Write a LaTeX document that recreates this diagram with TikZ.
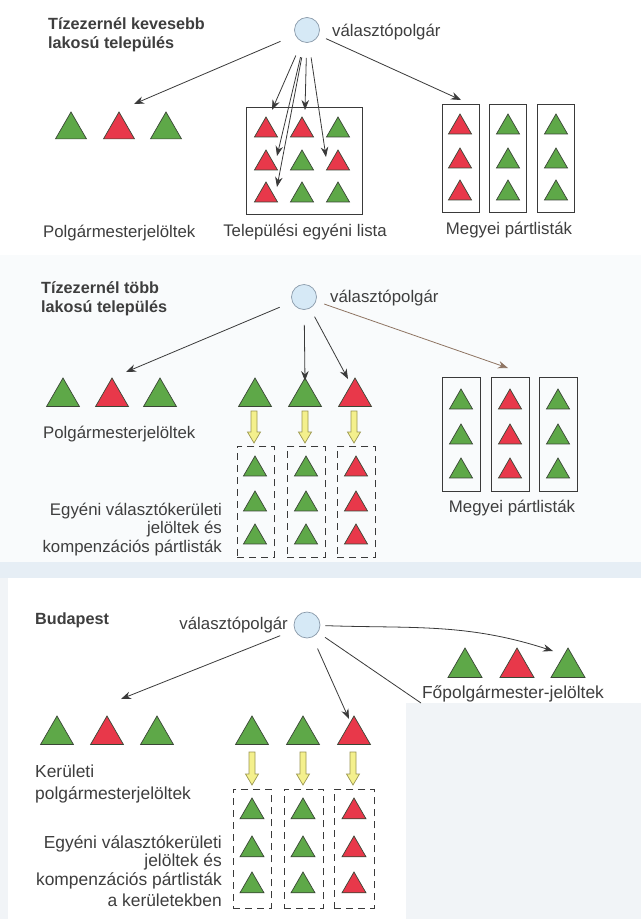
\documentclass[tikz,border=0pt]{standalone}
\usepackage{fontspec}
\setmainfont{Liberation Sans}
\usetikzlibrary{arrows.meta,shapes.geometric,calc}
\definecolor{tgreen}{HTML}{5EA848}
\definecolor{tred}{HTML}{E8384A}
\definecolor{tedge}{HTML}{3A4636}
\definecolor{txt}{HTML}{3E3E3E}
\definecolor{circfill}{HTML}{D6E9F6}
\definecolor{circedge}{HTML}{8A9AAA}
\definecolor{ylw}{HTML}{F4F08C}
\definecolor{ylwedge}{HTML}{9A9650}
\definecolor{arrc}{HTML}{3A3A3A}
\definecolor{brownarr}{HTML}{8E7462}
\definecolor{band}{HTML}{E6EEF5}
\definecolor{lowbg}{HTML}{F1F4F7}
\definecolor{midbg}{HTML}{F9FBFC}
\newcommand\yarw[3]{%
  \draw[yarr] (#1-3,#2) -- (#1+3,#2) -- (#1+3,#3-11) -- (#1+6.5,#3-11) -- (#1,#3)
    -- (#1-6.5,#3-11) -- (#1-3,#3-11) -- cycle;}
\tikzset{
  tri/.style={regular polygon, regular polygon sides=3, inner sep=0pt, outer sep=0pt,
    minimum size={1.1547*#1pt}, anchor=corner 1, draw=tedge, line width=0.7pt},
  gt/.style={tri=#1, fill=tgreen},
  rt/.style={tri=#1, fill=tred},
  lab/.style={text=txt, font=\fontsize{16.8}{19}\selectfont, inner sep=0pt},
  labb/.style={text=txt, font=\fontsize{17.4}{19}\selectfont, inner sep=0pt},
  ttl/.style={text=txt, font=\bfseries\fontsize{16.2}{19}\selectfont, inner sep=0pt},
  voter/.style={circle, draw=circedge, fill=circfill, line width=0.7pt, minimum size=25pt, inner sep=0pt},
  arr/.style={draw=arrc, line width=0.8pt, -{Stealth[length=10pt,width=7.5pt]}},
  boxn/.style={draw=arrc, line width=0.8pt, anchor=north west, inner sep=0pt},
  dboxn/.style={draw=arrc, line width=0.9pt, dash pattern=on 7pt off 5pt, anchor=north west, inner sep=0pt},
  yarr/.style={draw=ylwedge, fill=ylw, line width=0.7pt, line join=miter},
}
\begin{document}
\begin{tikzpicture}[x=1pt,y=-1pt]
\useasboundingbox (0,0) rectangle (641,919);
% backgrounds
\fill[white] (0,0) rectangle (641,919);
\fill[midbg] (0,255) rectangle (641,562);
\fill[band] (0,562) rectangle (641,578);
\fill[lowbg] (406,703) rectangle (641,919);
\fill[lowbg] (0,578) rectangle (8,919);

% ================= Section 1 =================
\node[ttl, anchor=base west] (t1a) at (48,29) {Tízezernél kevesebb};
\node[ttl, anchor=base west] (t1b) at (48,48) {lakosú település};
\node[voter] (v1) at (307,30) {};
\node[lab, anchor=base west] (l1) at (332,36) {választópolgár};

\node[gt=31] (p1a) at (71,112) {};
\node[rt=31] (p1b) at (119,112) {};
\node[gt=31] (p1c) at (166,112) {};
\node[lab, anchor=base west] (pl1) at (43,237) {Polgármesterjelöltek};

\node[boxn, minimum width=116pt, minimum height=107pt] (bx1) at (246,107) {};
\node[rt=23] (s11) at (266,117) {};
\node[rt=23] (s12) at (302,117) {};
\node[gt=23] (s13) at (338,117) {};
\node[rt=23] (s21) at (266,150) {};
\node[gt=23] (s22) at (302,150) {};
\node[rt=23] (s23) at (338,150) {};
\node[rt=23] (s31) at (266,182) {};
\node[gt=23] (s32) at (302,182) {};
\node[gt=23] (s33) at (338,182) {};
\node[lab, anchor=base] (tel1) at (305,236) {Települési egyéni lista};

\node[boxn, minimum width=37pt, minimum height=108pt] (m1a) at (442,104) {};
\node[boxn, minimum width=37pt, minimum height=108pt] (m1b) at (489,104) {};
\node[boxn, minimum width=37pt, minimum height=108pt] (m1c) at (537,104) {};
\foreach \r/\y in {1/114,2/148,3/180}{
  \node[rt=23] (ma\r) at (460,\y) {};
  \node[gt=23] (mb\r) at (508,\y) {};
  \node[gt=23] (mc\r) at (556,\y) {};
}
\node[lab, anchor=base] (meg1) at (509,234) {Megyei pártlisták};

\coordinate (a1L) at (134,104);
\coordinate (a1R) at (461,100);
\coordinate (f1) at (272,110);
\coordinate (f2) at (277,156);
\coordinate (f3) at (277,187);
\coordinate (f4) at (305,110);
\coordinate (f5) at (326,157);
\draw[arr, shorten <=16pt] (v1) -- (a1L);
\draw[arr, shorten <=8pt] (v1) -- (a1R);
\foreach \f in {f1,f2,f3,f4,f5}{ \draw[arr, shorten <=15pt] (v1) -- (\f); }

% ================= Section 2 =================
\node[ttl, anchor=base west] (t2a) at (41,293) {Tízezernél több};
\node[ttl, anchor=base west] (t2b) at (41,312) {lakosú település};
\node[voter] (v2) at (304,297) {};
\node[lab, anchor=base west] (l2) at (330,302) {választópolgár};

\node[gt=33] (p2a) at (63,378) {};
\node[rt=33] (p2b) at (112,378) {};
\node[gt=33] (p2c) at (160,378) {};
\node[lab, anchor=base west] (pl2) at (43,438) {Polgármesterjelöltek};

\node[gt=33] (q2a) at (255,378) {};
\node[gt=33] (q2b) at (305,378) {};
\node[rt=33] (q2c) at (355,378) {};
\yarw{254}{411}{443}
\yarw{305}{411}{443}
\yarw{354}{411}{443}

\node[dboxn, minimum width=37pt, minimum height=111pt] (d2a) at (237,446) {};
\node[dboxn, minimum width=38pt, minimum height=111pt] (d2b) at (287,446) {};
\node[dboxn, minimum width=38pt, minimum height=111pt] (d2c) at (337,446) {};
\foreach \r/\y in {1/456,2/491,3/524}{
  \node[gt=23] (e2a\r) at (255,\y) {};
  \node[gt=23] (e2b\r) at (306,\y) {};
  \node[rt=23] (e2c\r) at (356,\y) {};
}
\node[lab, anchor=base east] (eg2a) at (222,515) {Egyéni választókerületi};
\node[lab, anchor=base east] (eg2b) at (222,533) {jelöltek és};
\node[lab, anchor=base east] (eg2c) at (222,552) {kompenzációs pártlisták};

\node[boxn, minimum width=38pt, minimum height=114pt] (m2a) at (442,377) {};
\node[boxn, minimum width=38pt, minimum height=114pt] (m2b) at (491,377) {};
\node[boxn, minimum width=38pt, minimum height=114pt] (m2c) at (539,377) {};
\foreach \r/\y in {1/389,2/424,3/458}{
  \node[gt=23] (n2a\r) at (461,\y) {};
  \node[rt=23] (n2b\r) at (510,\y) {};
  \node[gt=23] (n2c\r) at (558,\y) {};
}
\node[lab, anchor=base] (meg2) at (512,512) {Megyei pártlisták};

\coordinate (a2L) at (126,372);
\coordinate (a2M) at (305,381);
\coordinate (a2N) at (348,379);
\coordinate (a2R) at (508,368);
\draw[arr, shorten <=13.5pt] (v2) -- (a2L);
\draw[arr, shorten <=15pt] (v2) -- (a2M);
\draw[arr, shorten <=9.5pt] (v2) -- (a2N);
\draw[arr, draw=brownarr, shorten <=8.5pt] (v2) -- (a2R);

% ================= Section 3 =================
\node[ttl, anchor=base west] (t3) at (35,624) {Budapest};
\node[voter, minimum size=26pt] (v3) at (307,625) {};
\node[lab, anchor=base east] (l3) at (288,629) {választópolgár};

\node[gt=34] (fa) at (465,648) {};
\node[rt=34] (fb) at (517,648) {};
\node[gt=34] (fc) at (568,648) {};
\node[labb, anchor=base] (fol) at (513,698) {Főpolgármester-jelöltek};

\node[gt=33] (p3a) at (57,716) {};
\node[rt=33] (p3b) at (107,716) {};
\node[gt=33] (p3c) at (157,716) {};
\node[labb, anchor=base west] (ker1) at (35,777) {Kerületi};
\node[labb, anchor=base west] (ker2) at (35,799) {polgármesterjelöltek};

\node[gt=33] (q3a) at (252,716) {};
\node[gt=33] (q3b) at (303,716) {};
\node[rt=33] (q3c) at (354,716) {};
\yarw{252}{752}{785}
\yarw{303}{752}{785}
\yarw{353}{752}{785}

\node[dboxn, minimum width=38pt, minimum height=119pt] (d3a) at (233,789) {};
\node[dboxn, minimum width=39pt, minimum height=119pt] (d3b) at (284,789) {};
\node[dboxn, minimum width=40pt, minimum height=119pt] (d3c) at (334,789) {};
\foreach \r/\y in {1/798,2/836,3/872}{
  \node[gt=24] (e3a\r) at (252,\y) {};
  \node[gt=24] (e3b\r) at (303,\y) {};
  \node[rt=24] (e3c\r) at (354,\y) {};
}
\node[labb, anchor=base east] (eg3a) at (222,848) {Egyéni választókerületi};
\node[labb, anchor=base east] (eg3b) at (222,866) {jelöltek és};
\node[labb, anchor=base east] (eg3c) at (222,885) {kompenzációs pártlisták};
\node[labb, anchor=base east] (eg3d) at (222,906) {a kerületekben};

\coordinate (a3L) at (121,699);
\coordinate (a3M) at (349,719);
\coordinate (a3E) at (421,703);
\coordinate (a3F) at (553,651);
\draw[arr, shorten <=15.5pt] (v3) -- (a3L);
\draw[arr, shorten <=12.5pt] (v3) -- (a3M);
\draw[draw=arrc, line width=0.8pt, shorten <=8.5pt] (v3) -- (a3E);
\draw[arr, shorten <=5pt] (v3) to[out=-2, in=162] (a3F);
\end{tikzpicture}
\end{document}
